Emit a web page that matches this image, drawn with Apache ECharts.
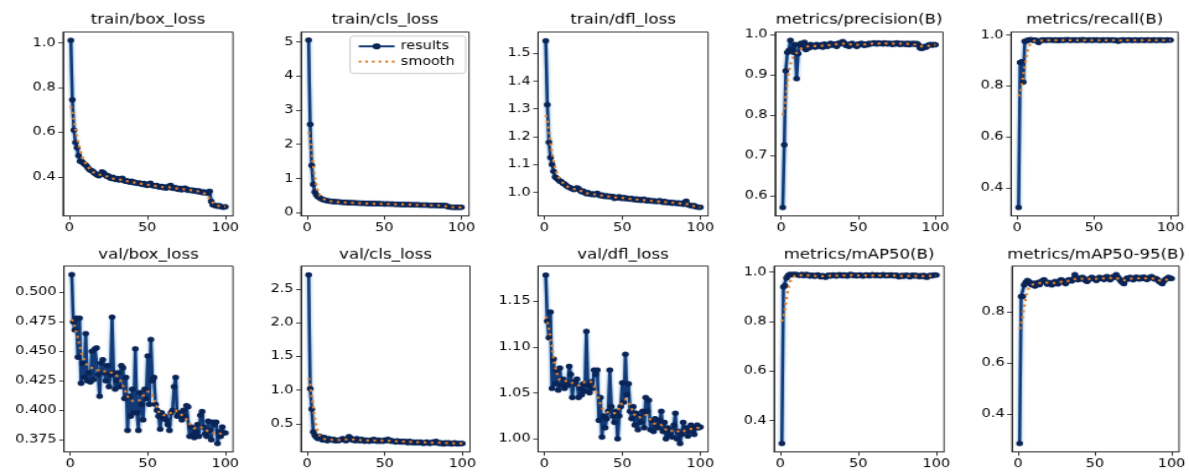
<!DOCTYPE html>
<html><head><meta charset="utf-8">
<script src="https://cdn.jsdelivr.net/npm/echarts@6/dist/echarts.min.js"></script>
<style>
html,body{margin:0;padding:0;background:#fff;overflow:hidden;width:1189px;height:472px}
#c{width:960px;height:480px;transform:scale(1.23854,0.98333);transform-origin:0 0}
</style></head>
<body><div id="c"></div>
<script>
const epochs = Array.from({length:100},(_, i)=>i+1);
const xTicks = [0,50,100];

const trainBox = [1.012,0.745,0.610,0.553,0.530,0.495,0.470,0.468,0.462,0.455,
0.450,0.440,0.432,0.428,0.425,0.418,0.412,0.408,0.405,0.410,
0.422,0.418,0.410,0.402,0.405,0.396,0.392,0.398,0.390,0.388,
0.392,0.386,0.389,0.394,0.384,0.380,0.383,0.378,0.376,0.380,
0.374,0.376,0.372,0.370,0.373,0.368,0.366,0.370,0.364,0.362,
0.366,0.371,0.362,0.360,0.358,0.362,0.356,0.354,0.357,0.352,
0.355,0.350,0.353,0.358,0.362,0.350,0.348,0.352,0.346,0.344,
0.348,0.342,0.345,0.350,0.346,0.340,0.342,0.338,0.341,0.336,
0.339,0.334,0.337,0.332,0.330,0.333,0.328,0.331,0.326,0.335,
0.290,0.275,0.272,0.270,0.268,0.271,0.267,0.265,0.264,0.266];
const trainBoxSmooth = [0.716,0.690,0.655,0.615,0.578,0.546,0.519,0.497,0.480,0.466,
0.454,0.444,0.436,0.429,0.423,0.418,0.414,0.411,0.410,0.409,
0.408,0.407,0.405,0.402,0.399,0.396,0.394,0.392,0.391,0.390,
0.389,0.388,0.387,0.386,0.384,0.382,0.380,0.379,0.377,0.376,
0.375,0.374,0.372,0.371,0.370,0.369,0.368,0.367,0.366,0.365,
0.364,0.363,0.362,0.360,0.359,0.358,0.357,0.356,0.355,0.354,
0.354,0.353,0.353,0.353,0.352,0.351,0.350,0.349,0.348,0.347,
0.346,0.345,0.345,0.344,0.343,0.342,0.341,0.340,0.339,0.338,
0.337,0.336,0.335,0.333,0.332,0.329,0.324,0.318,0.310,0.301,
0.292,0.284,0.278,0.274,0.271,0.269,0.267,0.266,0.266,0.266];

const trainCls = [5.05,2.58,1.38,0.83,0.60,0.52,0.47,0.44,0.41,0.39,
0.37,0.36,0.35,0.34,0.335,0.33,0.325,0.32,0.318,0.315,
0.31,0.305,0.30,0.302,0.298,0.295,0.29,0.292,0.288,0.285,
0.283,0.28,0.282,0.278,0.275,0.277,0.272,0.27,0.272,0.268,
0.266,0.265,0.263,0.262,0.26,0.262,0.258,0.256,0.255,0.254,
0.252,0.255,0.25,0.248,0.247,0.25,0.245,0.243,0.242,0.24,
0.239,0.238,0.236,0.238,0.235,0.233,0.232,0.23,0.232,0.228,
0.227,0.226,0.224,0.225,0.222,0.221,0.22,0.222,0.218,0.216,
0.215,0.214,0.212,0.215,0.21,0.208,0.21,0.205,0.204,0.21,
0.175,0.165,0.162,0.16,0.158,0.16,0.156,0.155,0.154,0.155];
const trainClsSmooth = [2.36,2.12,1.76,1.38,1.05,0.80,0.63,0.52,0.46,0.42,
0.39,0.37,0.355,0.345,0.336,0.329,0.323,0.318,0.314,0.31,
0.306,0.303,0.3,0.298,0.295,0.293,0.291,0.289,0.287,0.285,
0.283,0.281,0.279,0.277,0.276,0.274,0.272,0.271,0.269,0.268,
0.266,0.265,0.263,0.262,0.261,0.259,0.258,0.256,0.255,0.254,
0.253,0.251,0.25,0.249,0.248,0.246,0.245,0.244,0.242,0.241,
0.24,0.238,0.237,0.236,0.235,0.233,0.232,0.231,0.23,0.228,
0.227,0.226,0.225,0.224,0.222,0.221,0.22,0.219,0.218,0.216,
0.215,0.214,0.213,0.212,0.21,0.208,0.205,0.2,0.194,0.187,
0.179,0.172,0.166,0.162,0.159,0.157,0.156,0.155,0.155,0.155];

const trainDfl = [1.545,1.315,1.180,1.125,1.100,1.075,1.055,1.050,1.045,1.040,
1.038,1.032,1.030,1.025,1.020,1.018,1.015,1.012,1.010,1.012,
1.016,1.013,1.006,1.002,1.004,0.998,0.995,0.999,0.994,0.992,
0.995,0.991,0.993,0.996,0.990,0.988,0.990,0.986,0.985,0.988,
0.984,0.986,0.983,0.985,0.978,0.982,0.980,0.984,0.979,0.978,
0.981,0.977,0.979,0.976,0.975,0.978,0.974,0.973,0.976,0.972,
0.974,0.971,0.973,0.975,0.970,0.969,0.972,0.968,0.970,0.967,
0.969,0.966,0.968,0.970,0.966,0.964,0.967,0.963,0.965,0.962,
0.964,0.960,0.963,0.961,0.959,0.962,0.958,0.960,0.957,0.965,
0.968,0.955,0.953,0.952,0.950,0.952,0.948,0.947,0.946,0.946];
const trainDflSmooth = [1.278,1.255,1.220,1.180,1.143,1.112,1.088,1.070,1.057,1.047,
1.039,1.033,1.028,1.024,1.020,1.017,1.015,1.013,1.012,1.011,
1.010,1.008,1.006,1.003,1.001,0.999,0.997,0.996,0.995,0.994,
0.993,0.993,0.992,0.991,0.990,0.989,0.988,0.987,0.987,0.986,
0.985,0.984,0.984,0.983,0.982,0.982,0.981,0.980,0.980,0.979,
0.979,0.978,0.977,0.977,0.976,0.975,0.975,0.974,0.974,0.973,
0.973,0.972,0.972,0.971,0.971,0.970,0.970,0.969,0.969,0.968,
0.968,0.967,0.967,0.967,0.966,0.966,0.965,0.965,0.964,0.963,
0.963,0.962,0.962,0.961,0.961,0.960,0.960,0.960,0.960,0.959,
0.958,0.956,0.954,0.952,0.951,0.949,0.948,0.947,0.947,0.946];

const precision = [0.572,0.727,0.910,0.955,0.960,0.985,0.962,0.955,0.975,0.890,
0.952,0.975,0.978,0.968,0.980,0.962,0.972,0.966,0.975,0.970,
0.972,0.968,0.975,0.972,0.970,0.974,0.968,0.976,0.972,0.970,
0.975,0.978,0.973,0.976,0.974,0.970,0.978,0.976,0.980,0.982,
0.978,0.972,0.975,0.970,0.976,0.978,0.974,0.972,0.970,0.976,
0.974,0.978,0.975,0.972,0.976,0.974,0.978,0.976,0.977,0.979,
0.978,0.976,0.979,0.977,0.978,0.976,0.979,0.978,0.976,0.978,
0.977,0.975,0.978,0.976,0.979,0.977,0.975,0.978,0.976,0.977,
0.975,0.978,0.974,0.977,0.976,0.978,0.975,0.977,0.974,0.966,
0.965,0.966,0.970,0.968,0.972,0.974,0.975,0.973,0.975,0.974];
const precisionSmooth = [0.800,0.818,0.848,0.880,0.907,0.926,0.938,0.945,0.950,0.954,
0.958,0.962,0.965,0.967,0.968,0.969,0.970,0.970,0.971,0.971,
0.971,0.971,0.971,0.971,0.971,0.972,0.972,0.972,0.972,0.973,
0.973,0.974,0.974,0.975,0.975,0.976,0.976,0.977,0.977,0.977,
0.977,0.976,0.976,0.975,0.975,0.975,0.974,0.974,0.974,0.974,
0.975,0.975,0.975,0.975,0.975,0.976,0.976,0.977,0.977,0.977,
0.977,0.977,0.977,0.978,0.978,0.978,0.978,0.978,0.977,0.977,
0.977,0.977,0.977,0.977,0.977,0.977,0.977,0.977,0.977,0.977,
0.976,0.976,0.976,0.976,0.976,0.975,0.974,0.973,0.972,0.971,
0.970,0.970,0.970,0.970,0.971,0.972,0.973,0.973,0.974,0.974];

const recall = [0.322,0.892,0.895,0.815,0.975,0.976,0.980,0.981,0.982,0.980,
0.979,0.980,0.976,0.970,0.977,0.980,0.981,0.980,0.979,0.981,
0.980,0.981,0.980,0.979,0.981,0.980,0.978,0.981,0.980,0.979,
0.981,0.980,0.982,0.980,0.979,0.981,0.980,0.981,0.979,0.980,
0.981,0.980,0.982,0.980,0.979,0.980,0.981,0.980,0.979,0.981,
0.980,0.981,0.980,0.979,0.980,0.981,0.980,0.979,0.981,0.980,
0.980,0.981,0.979,0.980,0.978,0.975,0.979,0.980,0.981,0.980,
0.979,0.980,0.981,0.980,0.979,0.980,0.981,0.980,0.979,0.980,
0.981,0.980,0.979,0.980,0.981,0.980,0.979,0.980,0.981,0.980,
0.979,0.980,0.981,0.980,0.980,0.979,0.980,0.981,0.980,0.980];
const recallSmooth = [0.758,0.772,0.800,0.838,0.878,0.913,0.940,0.958,0.968,0.974,
0.977,0.978,0.978,0.978,0.978,0.979,0.979,0.979,0.980,0.980,
0.980,0.980,0.980,0.980,0.980,0.980,0.980,0.980,0.980,0.980,
0.980,0.980,0.980,0.980,0.980,0.980,0.980,0.980,0.980,0.980,
0.980,0.980,0.980,0.980,0.980,0.980,0.980,0.980,0.980,0.980,
0.980,0.980,0.980,0.980,0.980,0.980,0.980,0.980,0.980,0.980,
0.980,0.980,0.980,0.979,0.979,0.979,0.979,0.979,0.980,0.980,
0.980,0.980,0.980,0.980,0.980,0.980,0.980,0.980,0.980,0.980,
0.980,0.980,0.980,0.980,0.980,0.980,0.980,0.980,0.980,0.980,
0.980,0.980,0.980,0.980,0.980,0.980,0.980,0.980,0.980,0.980];

const valBox = [0.515,0.475,0.468,0.478,0.445,0.478,0.423,0.440,0.428,0.465,
0.425,0.432,0.424,0.450,0.426,0.452,0.453,0.430,0.412,0.440,
0.443,0.432,0.425,0.438,0.420,0.430,0.479,0.432,0.418,0.425,
0.432,0.420,0.438,0.436,0.410,0.428,0.383,0.412,0.395,0.418,
0.398,0.452,0.398,0.383,0.415,0.405,0.392,0.418,0.410,0.446,
0.405,0.460,0.425,0.428,0.405,0.400,0.395,0.384,0.398,0.393,
0.395,0.392,0.388,0.383,0.398,0.400,0.420,0.428,0.395,0.398,
0.396,0.392,0.400,0.395,0.404,0.403,0.378,0.386,0.379,0.377,
0.382,0.388,0.378,0.396,0.399,0.386,0.380,0.378,0.391,0.383,
0.375,0.390,0.388,0.390,0.372,0.382,0.378,0.386,0.381,0.381];
const valBoxSmooth = [0.477,0.475,0.471,0.466,0.461,0.455,0.450,0.446,0.443,0.440,
0.438,0.437,0.436,0.436,0.436,0.436,0.435,0.434,0.433,0.433,
0.433,0.433,0.433,0.433,0.432,0.432,0.432,0.432,0.431,0.430,
0.428,0.426,0.424,0.421,0.418,0.415,0.412,0.410,0.409,0.408,
0.408,0.408,0.408,0.408,0.409,0.410,0.412,0.414,0.415,0.416,
0.416,0.415,0.413,0.410,0.406,0.402,0.399,0.397,0.396,0.396,
0.396,0.396,0.396,0.397,0.398,0.399,0.400,0.400,0.399,0.398,
0.397,0.396,0.395,0.394,0.393,0.391,0.389,0.387,0.386,0.385,
0.385,0.385,0.386,0.386,0.386,0.385,0.384,0.383,0.382,0.382,
0.381,0.381,0.380,0.380,0.380,0.380,0.380,0.381,0.381,0.381];

const valCls = [2.71,1.02,0.72,0.38,0.33,0.30,0.28,0.32,0.29,0.26,
0.30,0.27,0.25,0.28,0.27,0.26,0.27,0.25,0.26,0.25,
0.26,0.27,0.28,0.26,0.25,0.27,0.31,0.29,0.26,0.27,
0.25,0.28,0.26,0.25,0.27,0.26,0.24,0.26,0.25,0.24,
0.26,0.25,0.27,0.25,0.24,0.26,0.24,0.25,0.24,0.26,
0.25,0.27,0.26,0.24,0.25,0.24,0.23,0.25,0.24,0.23,
0.24,0.23,0.24,0.23,0.22,0.24,0.23,0.22,0.23,0.22,
0.23,0.22,0.23,0.22,0.21,0.22,0.23,0.22,0.21,0.22,
0.23,0.22,0.24,0.22,0.21,0.22,0.21,0.20,0.22,0.21,
0.22,0.21,0.20,0.21,0.22,0.21,0.20,0.21,0.21,0.21];
const valClsSmooth = [1.18,1.08,0.92,0.74,0.58,0.46,0.38,0.33,0.30,0.285,
0.276,0.27,0.267,0.266,0.265,0.264,0.263,0.262,0.261,0.261,
0.262,0.264,0.266,0.268,0.27,0.271,0.272,0.271,0.27,0.268,
0.266,0.265,0.263,0.261,0.259,0.257,0.256,0.255,0.254,0.254,
0.254,0.254,0.254,0.253,0.252,0.251,0.25,0.25,0.25,0.251,
0.251,0.251,0.25,0.249,0.247,0.245,0.243,0.241,0.24,0.239,
0.238,0.237,0.236,0.235,0.234,0.233,0.232,0.231,0.23,0.229,
0.228,0.227,0.226,0.225,0.224,0.224,0.223,0.223,0.223,0.223,
0.223,0.223,0.223,0.222,0.221,0.219,0.218,0.217,0.216,0.215,
0.214,0.213,0.212,0.212,0.211,0.211,0.21,0.21,0.21,0.21];

const valDfl = [1.178,1.128,1.110,1.138,1.055,1.087,1.060,1.075,1.053,1.077,
1.058,1.065,1.055,1.062,1.058,1.079,1.070,1.045,1.062,1.060,
1.065,1.045,1.055,1.048,1.060,1.052,1.117,1.058,1.050,1.062,
1.055,1.075,1.070,1.075,1.020,1.045,1.002,1.025,1.012,1.022,
1.030,1.075,1.035,1.025,1.018,1.030,1.000,1.025,1.035,1.061,
1.040,1.092,1.048,1.060,1.030,1.022,1.035,1.015,1.028,1.010,
1.025,1.018,1.030,1.012,1.045,1.030,1.042,1.010,1.020,1.008,
1.022,1.015,1.012,1.020,1.030,1.008,1.018,1.000,1.012,1.005,
1.010,1.002,1.015,1.028,1.000,1.008,0.995,1.005,1.018,1.010,
1.012,1.003,1.008,1.015,1.010,1.005,1.012,1.015,1.012,1.013];
const valDflSmooth = [1.133,1.128,1.120,1.110,1.099,1.088,1.079,1.072,1.067,1.064,
1.063,1.063,1.063,1.063,1.063,1.063,1.062,1.061,1.060,1.059,
1.058,1.058,1.059,1.060,1.061,1.062,1.063,1.063,1.063,1.062,
1.060,1.057,1.053,1.048,1.043,1.038,1.034,1.031,1.029,1.029,
1.029,1.029,1.029,1.028,1.027,1.028,1.030,1.033,1.037,1.040,
1.042,1.043,1.042,1.040,1.037,1.033,1.029,1.026,1.024,1.023,
1.023,1.024,1.025,1.026,1.027,1.026,1.024,1.021,1.019,1.017,
1.016,1.016,1.016,1.016,1.015,1.014,1.012,1.010,1.009,1.008,
1.008,1.009,1.010,1.010,1.009,1.008,1.007,1.007,1.008,1.009,
1.010,1.010,1.010,1.011,1.011,1.011,1.012,1.012,1.012,1.012];

const map50 = [0.308,0.940,0.945,0.975,0.985,0.990,0.988,0.990,0.989,0.990,
0.988,0.986,0.988,0.990,0.985,0.988,0.990,0.986,0.983,0.987,
0.985,0.982,0.986,0.988,0.984,0.980,0.985,0.982,0.978,0.984,
0.987,0.983,0.986,0.988,0.985,0.983,0.987,0.989,0.986,0.984,
0.988,0.986,0.983,0.987,0.990,0.988,0.985,0.987,0.984,0.986,
0.988,0.985,0.983,0.986,0.988,0.987,0.984,0.986,0.989,0.987,
0.985,0.988,0.986,0.984,0.987,0.989,0.986,0.984,0.987,0.985,
0.988,0.986,0.984,0.987,0.985,0.980,0.983,0.986,0.982,0.985,
0.987,0.984,0.980,0.985,0.987,0.983,0.986,0.984,0.981,0.985,
0.982,0.986,0.980,0.978,0.983,0.986,0.984,0.986,0.988,0.987];
const map50Smooth = [0.800,0.818,0.852,0.892,0.927,0.953,0.969,0.978,0.983,0.986,
0.987,0.987,0.987,0.987,0.987,0.987,0.986,0.986,0.986,0.985,
0.985,0.984,0.984,0.983,0.983,0.983,0.983,0.983,0.983,0.984,
0.984,0.985,0.985,0.985,0.985,0.985,0.986,0.986,0.986,0.986,
0.986,0.986,0.986,0.987,0.987,0.987,0.987,0.986,0.986,0.986,
0.986,0.986,0.986,0.986,0.986,0.986,0.986,0.986,0.986,0.986,
0.986,0.986,0.986,0.986,0.986,0.986,0.986,0.986,0.986,0.986,
0.986,0.986,0.985,0.985,0.984,0.984,0.984,0.984,0.984,0.984,
0.984,0.984,0.984,0.984,0.984,0.984,0.984,0.984,0.983,0.983,
0.983,0.983,0.983,0.983,0.983,0.984,0.985,0.985,0.986,0.986];

const map5095 = [0.285,0.860,0.860,0.905,0.915,0.922,0.918,0.910,0.905,0.912,
0.900,0.908,0.915,0.906,0.918,0.922,0.925,0.915,0.908,0.915,
0.912,0.905,0.910,0.918,0.914,0.909,0.920,0.925,0.922,0.915,
0.910,0.918,0.925,0.922,0.920,0.928,0.945,0.930,0.925,0.932,
0.928,0.935,0.930,0.922,0.918,0.925,0.930,0.935,0.932,0.928,
0.922,0.928,0.935,0.930,0.932,0.926,0.935,0.938,0.930,0.925,
0.932,0.938,0.935,0.945,0.936,0.928,0.920,0.915,0.910,0.925,
0.932,0.928,0.935,0.930,0.925,0.932,0.936,0.930,0.928,0.934,
0.930,0.936,0.932,0.926,0.930,0.935,0.938,0.932,0.928,0.930,
0.925,0.918,0.915,0.910,0.920,0.926,0.930,0.935,0.932,0.930];
const map5095Smooth = [0.732,0.750,0.782,0.820,0.853,0.878,0.893,0.901,0.906,0.908,
0.909,0.910,0.911,0.912,0.913,0.914,0.914,0.914,0.913,0.913,
0.912,0.912,0.912,0.913,0.914,0.915,0.916,0.917,0.918,0.918,
0.918,0.919,0.921,0.923,0.925,0.927,0.928,0.929,0.929,0.929,
0.929,0.929,0.928,0.928,0.928,0.928,0.929,0.929,0.929,0.929,
0.929,0.929,0.930,0.930,0.931,0.931,0.932,0.932,0.932,0.932,
0.933,0.933,0.933,0.932,0.930,0.928,0.926,0.924,0.924,0.924,
0.925,0.927,0.929,0.930,0.931,0.931,0.931,0.931,0.931,0.931,
0.931,0.931,0.931,0.931,0.931,0.931,0.931,0.930,0.929,0.927,
0.925,0.923,0.922,0.921,0.922,0.924,0.926,0.928,0.929,0.930];

const titles = ['train/box_loss','train/cls_loss','train/dfl_loss','metrics/precision(B)','metrics/recall(B)',
                'val/box_loss','val/cls_loss','val/dfl_loss','metrics/mAP50(B)','metrics/mAP50-95(B)'];
const resultsData = [trainBox,trainCls,trainDfl,precision,recall,valBox,valCls,valDfl,map50,map5095];
const smoothData = [trainBoxSmooth,trainClsSmooth,trainDflSmooth,precisionSmooth,recallSmooth,
                    valBoxSmooth,valClsSmooth,valDflSmooth,map50Smooth,map5095Smooth];
const yTicks = [[0.4,0.6,0.8,1.0],[0,1,2,3,4,5],[1.0,1.1,1.2,1.3,1.4,1.5],[0.6,0.7,0.8,0.9,1.0],[0.4,0.6,0.8,1.0],
                [0.375,0.400,0.425,0.450,0.475,0.500],[0.5,1.0,1.5,2.0,2.5],[1.00,1.05,1.10,1.15],[0.4,0.6,0.8,1.0],[0.4,0.6,0.8]];
const yDecimals = [1,0,1,1,1,3,1,2,1,1];
const yLimits = [[0.225,1.049],[-0.095,5.29],[0.915,1.577],[0.5513,1.0057],[0.289,1.012],
                 [0.3649,0.5222],[0.085,2.84],[0.9859,1.188],[0.274,1.024],[0.252,0.979]];
const legendNames = ['results','smooth'];

// layout (in 960x480 figure space)
const boxes = [[50.9,32.5,137.2,187],[243.0,32.5,135.7,187],[434.4,32.5,137.3,187],[625.8,32.5,135.6,187],[816.3,32.5,134.9,187],
               [51.7,270.5,136.4,189],[243.0,270.5,136.5,189],[434.4,270.5,137.3,189],[625.0,270.5,137.2,189],[817.1,270.5,135.7,189]];
const FONT = 'DejaVu Sans';
const TICK_FS = 11.7;
const grid=[],xAxis=[],yAxis=[],title=[],series=[];
boxes.forEach((b,i)=>{
  grid.push({left:b[0],top:b[1],width:b[2],height:b[3],show:true,borderColor:'#222',borderWidth:0.9,backgroundColor:'#fff'});
  title.push({text:titles[i],left:b[0]+b[2]/2,top:b[1]-(i<5?18:17),textAlign:'center',padding:0,
    textStyle:{fontFamily:FONT,fontSize:13.4,fontWeight:'normal',color:'#000'}});
  xAxis.push({type:'value',gridIndex:i,min:-3.95,max:104.95,
    axisLine:{show:true,onZero:false,lineStyle:{color:'#222',width:0.9}},
    axisTick:{show:true,length:3.9,customValues:xTicks,lineStyle:{color:'#222',width:0.9}},
    axisLabel:{customValues:xTicks,margin:6,fontFamily:FONT,fontSize:TICK_FS,color:'#000',formatter:v=>String(v)},
    splitLine:{show:false}});
  const d=yDecimals[i];
  yAxis.push({type:'value',gridIndex:i,min:yLimits[i][0],max:yLimits[i][1],
    axisLine:{show:true,onZero:false,lineStyle:{color:'#222',width:0.9}},
    axisTick:{show:true,length:3.9,customValues:yTicks[i],lineStyle:{color:'#222',width:0.9}},
    axisLabel:{customValues:yTicks[i],margin:6,fontFamily:FONT,fontSize:TICK_FS,color:'#000',formatter:v=>v.toFixed(d)},
    splitLine:{show:false}});
  series.push({type:'line',name:legendNames[0],xAxisIndex:i,yAxisIndex:i,
    data:epochs.map((e,k)=>[e,resultsData[i][k]]),
    symbol:'circle',symbolSize:5.5,showSymbol:true,
    itemStyle:{color:'#0a2456'},
    lineStyle:{color:'#113a76',width:2.5,shadowColor:'rgba(45,125,205,0.85)',shadowBlur:2.5},
    emphasis:{disabled:true},animation:false,z:2});
  series.push({type:'line',name:legendNames[1],xAxisIndex:i,yAxisIndex:i,
    data:epochs.map((e,k)=>[e,smoothData[i][k]]),
    symbol:'none',showSymbol:false,
    itemStyle:{color:'#e8822a'},
    lineStyle:{color:'#e8822a',width:2.2,type:[2.2,3.6]},
    emphasis:{disabled:true},animation:false,z:3});
});
const chart = echarts.init(document.getElementById('c'));
chart.setOption({
  backgroundColor:'#fff',animation:false,
  title, grid, xAxis, yAxis, series,
  legend:{
    data:[{name:legendNames[0]},
          {name:legendNames[1],icon:'path://M0,0h2.2v2.2h-2.2zM5.6,0h2.2v2.2h-2.2zM11.2,0h2.2v2.2h-2.2zM16.8,0h2.2v2.2h-2.2zM22.4,0h2.2v2.2h-2.2zM28,0h2.2v2.2h-2.2z'}],
    orient:'vertical',left:282.6,top:36.6,
    itemWidth:29,itemHeight:8,itemGap:3.5,padding:[4.5,9,6,6],
    borderColor:'#ccc',borderWidth:1,borderRadius:3,backgroundColor:'#fff',
    textStyle:{fontFamily:FONT,fontSize:11.6,color:'#000'}}
});
</script></body></html>
